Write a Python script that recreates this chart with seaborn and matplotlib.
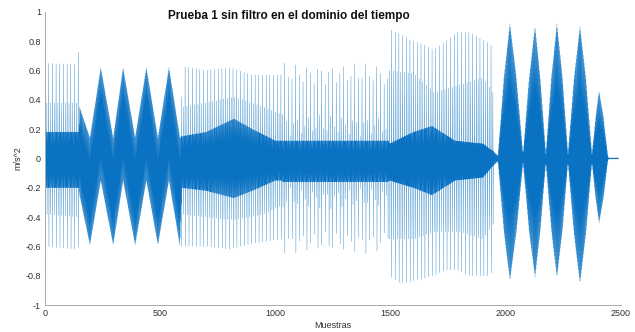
import matplotlib
matplotlib.use("Agg")
import matplotlib.pyplot as plt
import numpy as np
import pandas as pd
import seaborn as sns

# envelope breakpoints (sample index -> m/s^2)
# dense core of the signal (solid dark band)
core_x = [1, 147, 150, 195, 242, 296, 339, 391, 440, 490, 538, 586, 593,
          700, 820, 900, 1000, 1028, 1030, 1490, 1495, 1600, 1680, 1780, 1900,
          1945, 1966, 1992, 2018, 2046, 2075, 2101, 2127, 2150, 2174, 2198,
          2222, 2246, 2270, 2296, 2322, 2348, 2374, 2390, 2405, 2424, 2443,
          2446, 2490]
core_hi = [0.18, 0.18, 0.35, 0.14, 0.62, 0.14, 0.62, 0.14, 0.62, 0.14, 0.62, 0.14, 0.15,
           0.18, 0.27, 0.20, 0.12, 0.12, 0.12, 0.12, 0.10, 0.18, 0.22, 0.12, 0.10,
           0.05, 0.02, 0.55, 0.92, 0.55, 0.03, 0.54, 0.90, 0.54, 0.03, 0.55,
           0.92, 0.55, 0.03, 0.54, 0.90, 0.54, 0.03, 0.28, 0.46, 0.28, 0.02,
           0.004, 0.004]
core_lo = [-0.20, -0.20, -0.25, -0.59, -0.15, -0.59, -0.15, -0.59, -0.15, -0.59, -0.15, -0.60, -0.20,
           -0.22, -0.27, -0.22, -0.15, -0.15, -0.16, -0.16, -0.15, -0.20, -0.25, -0.15, -0.13,
           -0.05, -0.02, -0.50, -0.83, -0.50, -0.03, -0.49, -0.81, -0.49, -0.03, -0.49,
           -0.81, -0.49, -0.03, -0.51, -0.85, -0.51, -0.03, -0.27, -0.44, -0.27, -0.02,
           -0.004, -0.004]

# medium spikes (mid blue band)
mid_x = [1, 147, 148, 590, 593, 700, 820, 950, 1028,
         1040, 1065, 1090, 1116, 1141, 1166, 1191, 1217, 1242, 1267, 1292, 1318,
         1343, 1368, 1393, 1419, 1444, 1470, 1490,
         1495, 1600, 1690, 1800, 1900, 1945, 1950, 2490]
mid_hi = [0.38, 0.38, 0, 0, 0.35, 0.38, 0.42, 0.35, 0.30,
          0.30, 0.15, 0.30, 0.15, 0.30, 0.15, 0.30, 0.15, 0.30, 0.15, 0.30, 0.15,
          0.30, 0.15, 0.30, 0.15, 0.30, 0.15, 0.25,
          0.60, 0.58, 0.45, 0.50, 0.55, 0.45, 0, 0]
mid_lo = [-0.38, -0.40, 0, 0, -0.38, -0.40, -0.42, -0.38, -0.32,
          -0.35, -0.20, -0.35, -0.20, -0.35, -0.20, -0.35, -0.20, -0.35, -0.20, -0.35, -0.20,
          -0.35, -0.20, -0.35, -0.20, -0.35, -0.20, -0.30,
          -0.55, -0.55, -0.50, -0.50, -0.55, -0.45, 0, 0]

# sparse tall spikes (light blue lines)
peak_x = [1, 140, 147, 148, 590, 593, 700, 800, 900, 1028,
          1040, 1065, 1090, 1116, 1141, 1166, 1191, 1217, 1242, 1267, 1292, 1318,
          1343, 1368, 1393, 1419, 1444, 1470, 1490,
          1497, 1540, 1584, 1640, 1685, 1740, 1786, 1844, 1890, 1935, 1945, 1950, 2490]
peak_hi = [0.65, 0.64, 0.79, 0, 0, 0.63, 0.60, 0.62, 0.57, 0.57,
           0.65, 0.50, 0.65, 0.50, 0.65, 0.50, 0.65, 0.50, 0.65, 0.50, 0.65, 0.50,
           0.65, 0.50, 0.65, 0.50, 0.65, 0.50, 0.55,
           0.88, 0.85, 0.81, 0.78, 0.74, 0.80, 0.86, 0.86, 0.82, 0.78, 0.70, 0, 0]
peak_lo = [-0.60, -0.62, -0.60, 0, 0, -0.60, -0.60, -0.62, -0.58, -0.55,
           -0.65, -0.50, -0.65, -0.50, -0.65, -0.50, -0.65, -0.50, -0.65, -0.50, -0.65, -0.50,
           -0.65, -0.50, -0.65, -0.50, -0.65, -0.50, -0.55,
           -0.80, -0.85, -0.84, -0.82, -0.80, -0.76, -0.76, -0.80, -0.80, -0.80, -0.70, 0, 0]

n_samples = 2490
mid_step = 8
peak_step = 16

x_ticks = [0, 500, 1000, 1500, 2000, 2500]
y_ticks = [-1, -0.8, -0.6, -0.4, -0.2, 0, 0.2, 0.4, 0.6, 0.8, 1]
y_labels = ["-1", "-0.8", "-0.6", "-0.4", "-0.2", "0", "0.2", "0.4", "0.6", "0.8", "1"]

# build the sample sequence from the envelopes
n = np.arange(1, n_samples + 1)
c_hi = np.interp(n, core_x, core_hi)
c_lo = np.interp(n, core_x, core_lo)
m_hi = np.maximum(np.interp(n, mid_x, mid_hi), c_hi)
m_lo = np.minimum(np.interp(n, mid_x, mid_lo), c_lo)
p_hi = np.maximum(np.interp(n, peak_x, peak_hi), m_hi)
p_lo = np.minimum(np.interp(n, peak_x, peak_lo), m_lo)

y = np.where(n % 2 == 0, c_hi, c_lo)
y = np.where(n % mid_step == 0, m_hi, y)
y = np.where(n % mid_step == 1, m_lo, y)
y = np.where(n % peak_step == 0, p_hi, y)
y = np.where(n % peak_step == 1, p_lo, y)

df = pd.DataFrame({"Muestras": n, "acc": y})

sns.set_style("white")
plt.rcParams["font.family"] = ["Liberation Sans", "DejaVu Sans"]

fig = plt.figure(figsize=(6.35, 3.32), dpi=100)
ax = fig.add_axes([0.0709, 0.0813, 0.907, 0.883])

sns.lineplot(data=df, x="Muestras", y="acc", ax=ax, color="#0a72c2",
             linewidth=0.25, estimator=None, sort=False)

ax.set_xlim(0, 2500)
ax.set_ylim(-1, 1)
ax.set_xticks(x_ticks)
ax.set_yticks(y_ticks)
ax.set_yticklabels(y_labels)
ax.tick_params(direction="in", length=3, width=0.6, colors="#999999",
               labelcolor="#333333", labelsize=6.5, pad=3)
for side in ["top", "right"]:
    ax.spines[side].set_visible(False)
for side in ["left", "bottom"]:
    ax.spines[side].set_color("#aaaaaa")
    ax.spines[side].set_linewidth(0.7)

ax.set_xlabel("Muestras", fontsize=6.5, color="#333333")
ax.set_ylabel("m/s^2", fontsize=6.5, color="#333333")
ax.xaxis.set_label_coords(0.5, -0.055)
ax.yaxis.set_label_coords(-0.04, 0.5)
ax.text(0.424, 0.985, "Prueba 1 sin filtro en el dominio del tiempo",
        transform=ax.transAxes, ha="center", va="center",
        fontsize=8.5, fontweight="bold", color="#111111")

fig.savefig("out.png", dpi=100)
